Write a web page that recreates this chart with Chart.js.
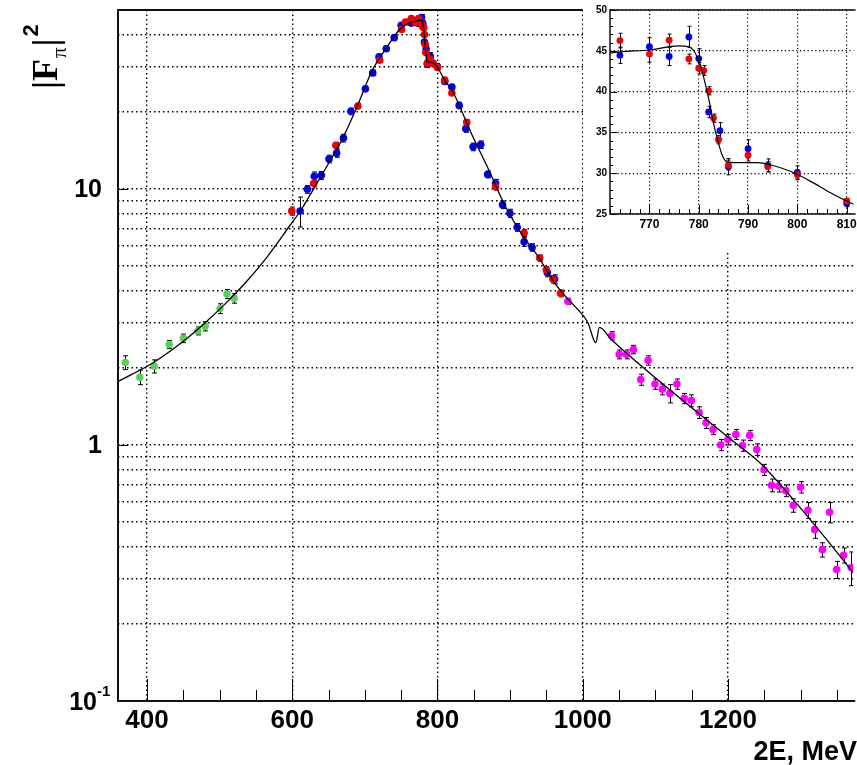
<!DOCTYPE html>
<html>
<head>
<meta charset="utf-8">
<script src="https://cdn.jsdelivr.net/npm/chart.js@4/dist/chart.umd.min.js"></script>
<style>
  html, body { margin: 0; padding: 0; background: #fff; }
  #wrap { position: relative; width: 857px; height: 765px; overflow: hidden; }
  #main { position: absolute; left: 0; top: 0; }
  #inset { position: absolute; left: 583px; top: 0; background: #fff; }
</style>
</head>
<body>
<div id="wrap">
  <canvas id="main" width="857" height="765"></canvas>
  <canvas id="inset" width="274" height="250"></canvas>
</div>
<script>
// ─── Data ────────────────────────────────────────────────────────────────────
const GREEN_E   = [370, 390, 410, 430.5, 450, 470, 480, 500.4, 510, 520];
const GREEN_F   = [2.10, 1.84, 2.03, 2.47, 2.61, 2.79, 2.91, 3.41, 3.89, 3.74];
const GREEN_ERR = [0.13, 0.12, 0.12, 0.09, 0.10, 0.10, 0.12, 0.15, 0.16, 0.16];

const BLUE_E = [610.8, 620.8, 630.4, 640, 650.5, 661, 670.5, 680.7, 700.7, 710.8,
  719.4, 729.4, 740.4, 750, 760.5, 764, 770, 774, 778, 780, 782, 784.3, 786, 790,
  794, 800, 810, 819.8, 829.9, 839, 849, 859.5, 869.1, 880, 889.6, 899.7, 909.7,
  919.3, 930.3, 951.2, 961.3];
const BLUE_F = [8.2, 9.97, 11.2, 11.3, 13.1, 13.8, 15.8, 20.1, 24.6, 28.4,
  32.8, 35.3, 39.0, 43.6, 44.9, 44.45, 45.5, 44.3, 46.7, 44.05, 37.5, 35.2, 30.8, 33.0,
  30.95, 30.1, 26.3, 25.0, 21.2, 17.2, 14.6, 14.9, 11.4, 10.5, 8.68, 8.03, 7.08,
  6.22, 5.91, 4.72, 4.44];
const BLUE_ERR = [1.1, 0.35, 0.45, 0.4, 0.45, 0.5, 0.55, 0.6, 0.6, 0.7,
  0.8, 0.8, 0.9, 0.9, 0.9, 1.0, 1.1, 1.1, 1.3, 1.2, 0.7, 1.0, 1.0, 1.1,
  0.8, 0.8, 0.4, 0.6, 0.6, 0.55, 0.5, 0.5, 0.35, 0.4, 0.3, 0.3, 0.25,
  0.25, 0.2, 0.18, 0.18];

const RED_E = [599.3, 629.5, 660, 690.3, 720.4, 750.5, 756, 764, 770, 774, 778,
  780, 781, 782, 783, 784, 786, 790, 794, 800, 810, 819.8, 840.3, 880, 919.3,
  940.8, 949.9, 959, 969.5];
const RED_F = [8.2, 10.5, 14.8, 21.1, 31.8, 42.0, 44.9, 46.25, 44.6, 46.3, 44.0,
  42.86, 42.6, 40.1, 36.75, 34.1, 31.0, 32.2, 30.8, 29.8, 26.6, 23.7, 18.2, 10.2, 6.73,
  5.37, 4.83, 4.44, 3.91];
const RED_ERR = [0.3, 0.3, 0.4, 0.5, 0.6, 0.8, 0.8, 0.9, 1.0, 0.75, 0.6,
  0.7, 0.6, 0.5, 0.5, 0.5, 0.6, 0.7, 0.6, 0.6, 0.3, 0.5, 0.4, 0.3, 0.2,
  0.15, 0.15, 0.15, 0.12];

const MAGENTA_E = [979.6, 1039.8, 1050.3, 1060.3, 1069.9, 1079.9, 1090, 1099.6,
  1109.6, 1120.1, 1129.7, 1139.7, 1149.7, 1160.3, 1169.9, 1179.4, 1190, 1200,
  1210.9, 1220.1, 1230, 1239.7, 1249.7, 1260.2, 1269.8, 1279.8, 1289.9, 1300,
  1310, 1319.5, 1330, 1340, 1349.6, 1359.2, 1369.7];
const MAGENTA_F = [3.64, 2.67, 2.26, 2.26, 2.36, 1.80, 2.14, 1.73,
  1.65, 1.59, 1.73, 1.52, 1.49, 1.34, 1.22, 1.15, 1.00, 1.05,
  1.10, 0.995, 1.09, 0.96, 0.80, 0.696, 0.69, 0.663, 0.581, 0.684,
  0.556, 0.467, 0.39, 0.546, 0.326, 0.371, 0.332];
const MAGENTA_ERR = [0.1, 0.1, 0.09, 0.09, 0.09, 0.09, 0.09, 0.08,
  0.08, 0.13, 0.08, 0.07, 0.08, 0.07, 0.06, 0.05, 0.05, 0.05,
  0.05, 0.05, 0.05, 0.05, 0.04, 0.04, 0.035, 0.035, 0.035, 0.035,
  0.04, 0.035, 0.025, 0.05, 0.025, 0.025, 0.05];

// fit curve
const FIT_E = [360, 409, 450, 480, 509, 537, 563, 596, 611, 637, 669, 690, 710,
  729, 747, 762, 770, 776, 778, 779.3, 780.3, 781.3, 782.2, 783, 783.9, 784.7,
  785.7, 787.3, 792, 794.7, 798.7, 802.7, 806.7, 811.4, 820, 830, 847, 870, 893,
  916, 938, 961, 984, 993, 1007, 1018, 1023, 1039, 1199, 1244, 1290, 1336, 1373];
const FIT_F = [1.77, 2.10, 2.54, 3.0, 3.59, 4.35, 5.32, 7.15, 8.2, 10.9, 15.7, 21.2, 29.0,
  35.3, 41.7, 44.7, 45.1, 45.6, 45.5, 44.7, 43.3, 41.0, 38.6, 36.1, 33.9, 32.3,
  31.4, 31.3, 31.3, 31.0, 30.2, 29.0, 27.6, 26.2, 24.3, 21.2, 16.4, 11.97, 8.6,
  6.67, 5.48, 4.31, 3.60, 3.39, 3.01, 2.51, 2.88, 2.59, 1.08, 0.852, 0.612, 0.427, 0.316];

const X_TICKS = [400, 600, 800, 1000, 1200];
const Y_GRID = [0.2, 0.3, 0.4, 0.5, 0.6, 0.7, 0.8, 0.9, 1, 2, 3, 4, 5, 6, 7, 8, 9, 10, 20, 30, 40];
const INSET_X_TICKS = [770, 780, 790, 800, 810];
const INSET_Y_TICKS = [25, 30, 35, 40, 45, 50];

const GREEN = '#55d155';
const BLUE = '#0000f0';
const RED = '#f00000';
const MAGENTA = '#ff00ff';

const SANS = '"Liberation Sans", Arial, Helvetica, sans-serif';
const SERIF = '"Liberation Serif", "Times New Roman", serif';

// ─── Helpers ─────────────────────────────────────────────────────────────────
function series(es, fs, errs, lo = -Infinity, hi = Infinity) {
  const data = [], err = [];
  es.forEach((e, i) => {
    if (e < lo || e > hi) return;
    data.push({ x: e, y: fs[i] });
    if (errs) err.push(errs[i]);
  });
  return { data, errs: errs ? err : null };
}

function pointSet(es, fs, errs, color, radius, order, lo, hi) {
  const s = series(es, fs, errs, lo, hi);
  return {
    data: s.data, errs: s.errs,
    backgroundColor: color, pointBackgroundColor: color,
    pointBorderWidth: 0, pointRadius: radius, pointHoverRadius: radius,
    showLine: false, order,
  };
}

function fitSet(width) {
  return {
    data: series(FIT_E, FIT_F).data,
    showLine: true, borderColor: '#000', borderWidth: width,
    pointRadius: 0, cubicInterpolationMode: 'monotone', order: 0,
  };
}

// keep the plot area flush with the canvas edge (labels may overhang and clip)
function noLabelPadding(s) {
  s.paddingLeft = 0; s.paddingRight = 0; s.paddingTop = 0; s.paddingBottom = 0;
}

// Vertical error bars under the markers
const errorBars = {
  id: 'errorBars',
  beforeDatasetsDraw(chart, args, opts) {
    const { ctx, chartArea: a, scales: { x, y } } = chart;
    const cap = opts.cap || 2.5;
    ctx.save();
    ctx.beginPath();
    ctx.rect(a.left, a.top, a.right - a.left, a.bottom - a.top);
    ctx.clip();
    ctx.strokeStyle = '#000';
    ctx.lineWidth = 1;
    chart.data.datasets.forEach(ds => {
      if (!ds.errs) return;
      ds.data.forEach((p, i) => {
        const e = ds.errs[i];
        const px = Math.round(x.getPixelForValue(p.x)) + 0.5;
        const y1 = y.getPixelForValue(p.y + e);
        const y2 = y.getPixelForValue(p.y - e);
        ctx.beginPath();
        ctx.moveTo(px, y1); ctx.lineTo(px, y2);
        ctx.moveTo(px - cap, y1); ctx.lineTo(px + cap, y1);
        ctx.moveTo(px - cap, y2); ctx.lineTo(px + cap, y2);
        ctx.stroke();
      });
    });
    ctx.restore();
  },
};

// Frame, inward ticks, log labels and axis titles of the main pad
const mainDecor = {
  id: 'mainDecor',
  afterDraw(chart) {
    const { ctx, chartArea: a, scales: { x, y } } = chart;
    ctx.save();
    ctx.strokeStyle = '#000';
    ctx.lineWidth = 1;
    for (let v = 400; v < 1380; v += 50) {
      const px = Math.round(x.getPixelForValue(v)) + 0.5;
      const len = v % 200 === 0 ? 22 : 11;
      ctx.beginPath(); ctx.moveTo(px, a.bottom); ctx.lineTo(px, a.bottom - len); ctx.stroke();
    }
    [1, 10].forEach(v => {
      const py = Math.round(y.getPixelForValue(v)) + 0.5;
      ctx.beginPath(); ctx.moveTo(a.left, py); ctx.lineTo(a.left + 10, py); ctx.stroke();
    });

    ctx.strokeStyle = '#111';
    ctx.lineWidth = 2;
    ctx.beginPath();
    ctx.moveTo(a.right + 2, a.top); ctx.lineTo(a.left, a.top);
    ctx.lineTo(a.left, a.bottom); ctx.lineTo(a.right + 2, a.bottom);
    ctx.stroke();

    // y labels
    ctx.fillStyle = '#000';
    ctx.textBaseline = 'middle';
    ctx.textAlign = 'right';
    ctx.font = `bold 25px ${SANS}`;
    ctx.fillText('10', 102, y.getPixelForValue(10) + 1);
    ctx.fillText('1', 102, y.getPixelForValue(1) + 1);
    ctx.fillText('10', 97, y.getPixelForValue(0.1) + 2);
    ctx.textAlign = 'left';
    ctx.font = `bold 15px ${SANS}`;
    ctx.fillText('-1', 97, y.getPixelForValue(0.1) - 9);

    // x title
    ctx.textAlign = 'right';
    ctx.textBaseline = 'alphabetic';
    ctx.font = `bold 27px ${SANS}`;
    ctx.fillText('2E, MeV', 857, 760);

    // y title |F_pi|^2, rotated
    ctx.translate(57, 89);
    ctx.rotate(-Math.PI / 2);
    ctx.textAlign = 'left';
    ctx.font = `bold 36px ${SERIF}`;
    ctx.fillText('|F', 0, 0);
    let u = ctx.measureText('|F').width;
    ctx.font = `21px ${SERIF}`;
    ctx.fillText('π', u + 1, 9);
    u += ctx.measureText('π').width + 2;
    ctx.font = `bold 36px ${SERIF}`;
    ctx.fillText('|', u, 0);
    u += ctx.measureText('|').width + 2;
    ctx.font = `bold 22px ${SANS}`;
    ctx.fillText('2', u, -19);
    ctx.restore();
  },
};

// Frame and inward ticks of the inset pad
const insetDecor = {
  id: 'insetDecor',
  afterDraw(chart) {
    const { ctx, chartArea: a, scales: { x, y } } = chart;
    ctx.save();
    ctx.strokeStyle = '#000';
    ctx.lineWidth = 1;
    for (let v = 762; v <= 811; v += 2) {
      const px = Math.round(x.getPixelForValue(v)) + 0.5;
      const len = v % 10 === 0 ? 9 : 5;
      ctx.beginPath(); ctx.moveTo(px, a.bottom); ctx.lineTo(px, a.bottom - len); ctx.stroke();
    }
    for (let v = 25; v <= 50; v += 1) {
      const py = Math.round(y.getPixelForValue(v)) + 0.5;
      const len = v % 5 === 0 ? 7 : 3;
      ctx.beginPath(); ctx.moveTo(a.left, py); ctx.lineTo(a.left + len, py); ctx.stroke();
    }
    ctx.lineWidth = 1.5;
    ctx.strokeStyle = '#111';
    ctx.beginPath();
    ctx.moveTo(a.right + 2, a.top); ctx.lineTo(a.left, a.top);
    ctx.lineTo(a.left, a.bottom); ctx.lineTo(a.right + 2, a.bottom);
    ctx.stroke();
    ctx.restore();
  },
};

const dotted = { display: false, dash: [1.5, 3] };
const gridStyle = { color: '#000', lineWidth: 1.4, drawTicks: false };
const plainLabel = v => String(v);

// ─── Main pad ────────────────────────────────────────────────────────────────
new Chart(document.getElementById('main'), {
  type: 'scatter',
  data: {
    datasets: [
      fitSet(1.3),
      pointSet(GREEN_E, GREEN_F, GREEN_ERR, GREEN, 3.7, 2),
      pointSet(BLUE_E, BLUE_F, BLUE_ERR, BLUE, 3.8, 2),
      pointSet(MAGENTA_E, MAGENTA_F, MAGENTA_ERR, MAGENTA, 3.8, 2),
      pointSet(RED_E, RED_F, RED_ERR, RED, 3.8, 1),
    ],
  },
  options: {
    responsive: false,
    animation: false,
    devicePixelRatio: 1,
    layout: { padding: { top: 10, left: 0, right: 0, bottom: 0 } },
    plugins: { legend: { display: false }, tooltip: { enabled: false }, errorBars: { cap: 2.5 } },
    scales: {
      x: {
        type: 'linear', min: 360, max: 1372.5,
        afterBuildTicks: s => { s.ticks = X_TICKS.map(v => ({ value: v })); },
        afterFit: s => { s.height = 64; noLabelPadding(s); },
        grid: gridStyle, border: dotted,
        ticks: { color: '#000', font: { family: SANS, size: 26, weight: 'bold' }, padding: 4,
                 maxRotation: 0, autoSkip: false, callback: plainLabel },
      },
      y: {
        type: 'logarithmic', min: 0.1, max: 50,
        afterBuildTicks: s => { s.ticks = Y_GRID.map(v => ({ value: v })); },
        afterFit: s => { s.width = 118; noLabelPadding(s); },
        grid: gridStyle, border: dotted,
        ticks: { display: false },
      },
    },
  },
  plugins: [errorBars, mainDecor],
});

// ─── Inset pad (zoom on the rho-omega region) ────────────────────────────────
new Chart(document.getElementById('inset'), {
  type: 'scatter',
  data: {
    datasets: [
      fitSet(1.2),
      pointSet(BLUE_E, BLUE_F, BLUE_ERR, BLUE, 3.4, 2, 762, 812),
      pointSet(RED_E, RED_F, RED_ERR, RED, 3.4, 1, 762, 812),
    ],
  },
  options: {
    responsive: false,
    animation: false,
    devicePixelRatio: 1,
    layout: { padding: { top: 10, left: 0, right: 0, bottom: 0 } },
    plugins: { legend: { display: false }, tooltip: { enabled: false }, errorBars: { cap: 2 } },
    scales: {
      x: {
        type: 'linear', min: 762, max: 811.4,
        afterBuildTicks: s => { s.ticks = INSET_X_TICKS.map(v => ({ value: v })); },
        afterFit: s => { s.height = 36; noLabelPadding(s); },
        grid: { color: '#000', lineWidth: 1.2, drawTicks: false }, border: { display: false, dash: [1.2, 2.6] },
        ticks: { color: '#000', font: { family: SANS, size: 12, weight: 'bold' }, padding: 3,
                 maxRotation: 0, autoSkip: false, callback: plainLabel },
      },
      y: {
        type: 'linear', min: 25, max: 50,
        afterBuildTicks: s => { s.ticks = INSET_Y_TICKS.map(v => ({ value: v })); },
        afterFit: s => { s.width = 27; noLabelPadding(s); },
        grid: { color: '#000', lineWidth: 1.2, drawTicks: false }, border: { display: false, dash: [1.2, 2.6] },
        ticks: { color: '#000', font: { family: SANS, size: 10, weight: 'bold' }, padding: 3, callback: plainLabel },
      },
    },
  },
  plugins: [errorBars, insetDecor],
});
</script>
</body>
</html>
